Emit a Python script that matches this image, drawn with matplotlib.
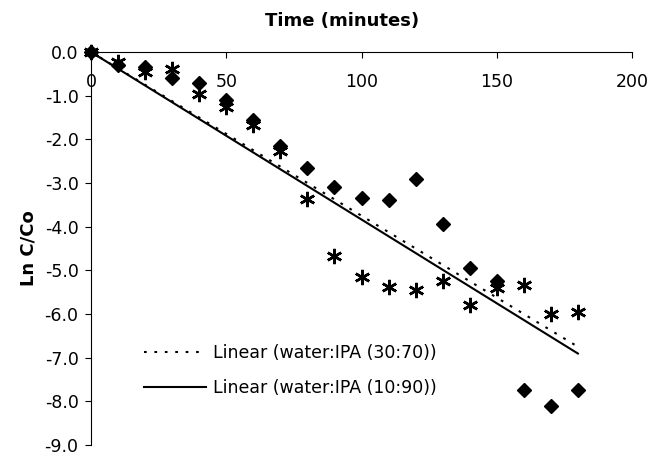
import matplotlib
matplotlib.use('Agg')
import matplotlib.pyplot as plt
import numpy as np

plt.rcParams['font.family'] = ['DejaVu Sans']
plt.rcParams['axes.unicode_minus'] = False

# time in minutes
time_min = [0, 10, 20, 30, 40, 50, 60, 70, 80, 90, 100, 110, 120, 130, 140, 150, 160, 170, 180]
# Ln C/Co, water:IPA (30:70) -- diamonds
ln_30_70 = [0.0, -0.30, -0.35, -0.60, -0.70, -1.10, -1.55, -2.15, -2.65, -3.10, -3.35, -3.40,
            -2.90, -3.95, -4.95, -5.25, -7.75, -8.10, -7.75]
# Ln C/Co, water:IPA (10:90) -- asterisks
ln_10_90 = [0.0, -0.23, -0.45, -0.40, -0.97, -1.26, -1.67, -2.27, -3.37, -4.68, -5.16, -5.39,
            -5.46, -5.25, -5.80, -5.41, -5.34, -5.99, -5.96]
legend_labels = ['Linear (water:IPA (30:70))', 'Linear (water:IPA (10:90))']

x = np.array(time_min, dtype=float)

def fit_through_zero(y):
    # excel-style linear trendline with intercept set to 0
    y = np.array(y)
    return np.sum(x * y) / np.sum(x * x)

fig = plt.figure(figsize=(6.56, 4.59), dpi=100)
ax = fig.add_axes([91 / 656, 1 - 445 / 459, 541 / 656, 393 / 459])

ax.plot(time_min, ln_30_70, linestyle='none', marker='D', markersize=7.5,
        color='black', clip_on=False, zorder=3)
ax.plot(time_min, ln_10_90, linestyle='none', marker=(6, 2, 0), markersize=11,
        markeredgewidth=1.8, color='black', clip_on=False, zorder=3)

xl = np.array([0, 180])
ax.plot(xl, fit_through_zero(ln_30_70) * xl, color='black', linewidth=1.5,
        linestyle=(0, (1.3, 3.7)), label=legend_labels[0])
ax.plot(xl, fit_through_zero(ln_10_90) * xl, color='black', linewidth=1.5,
        linestyle='-', label=legend_labels[1])

ax.set_xlim(0, 200)
ax.set_ylim(-9, 0)
ax.set_xticks([0, 50, 100, 150, 200])
ax.set_yticks(np.arange(-9, 0.5, 1))
ax.set_yticklabels(['%.1f' % v for v in np.arange(-9, 0.5, 1)])

ax.spines['right'].set_visible(False)
ax.spines['bottom'].set_visible(False)
ax.xaxis.tick_top()
ax.tick_params(axis='x', direction='in', length=4, pad=-15, labelsize=12.5)
ax.tick_params(axis='y', direction='out', length=4, pad=5, labelsize=12.5)
for lbl in ax.get_xticklabels():
    lbl.set_verticalalignment('top')

fig.text(342 / 656, 1 - 21 / 459, 'Time (minutes)', ha='center', va='center',
         fontsize=13, fontweight='bold')
ax.set_ylabel('Ln C/Co', fontsize=13, fontweight='bold', labelpad=5)

ax.legend(loc='lower left', bbox_to_anchor=(0.085, 0.105), frameon=False, fontsize=12.5,
          handlelength=3.6, labelspacing=0.95, handletextpad=0.4, borderaxespad=0)

fig.savefig('out.png', dpi=100)
